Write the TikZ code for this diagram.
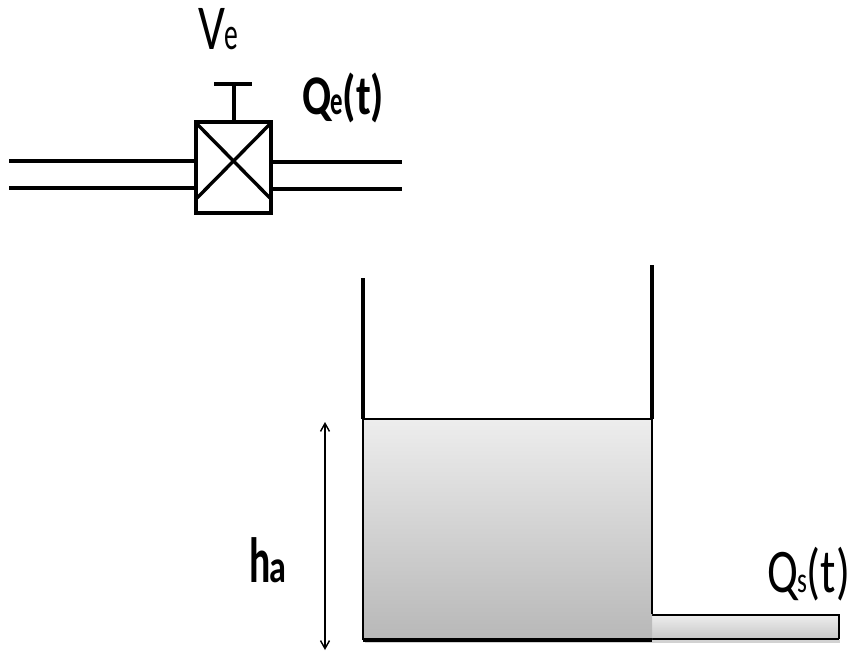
\documentclass[tikz,border=0pt]{standalone}
\usepackage{fontspec}
\setmainfont{Carlito}
\usetikzlibrary{arrows.meta,shadings}
\definecolor{wtop}{gray}{0.93}
\definecolor{wbot}{gray}{0.72}
\definecolor{ptop}{gray}{0.93}
\definecolor{pbot}{gray}{0.78}
\tikzset{
  thick line/.style={line width=4.4pt,black},
  wall line/.style={line width=3.4pt,black},
  label text/.style={inner sep=0pt,anchor=base west,black},
}
\newcommand{\bigtxt}[3]{\scalebox{#1}[1]{\fontsize{#2}{#2}\selectfont #3}}
\begin{document}
\begin{tikzpicture}[x=1pt,y=-1pt]
\useasboundingbox (0,0) rectangle (849,651);
\fill[white] (0,0) rectangle (849,651);
% coordinates
\coordinate (inA1) at (9,161);
\coordinate (inA2) at (196,161);
\coordinate (inB1) at (9,188);
\coordinate (inB2) at (196,188);
\coordinate (outA1) at (271,162);
\coordinate (outA2) at (402,162);
\coordinate (outB1) at (271,189);
\coordinate (outB2) at (402,189);
\coordinate (stemT) at (234,84);
\coordinate (barL) at (214,84);
\coordinate (barR) at (252,84);
\coordinate (boxTL) at (196,122);
\coordinate (boxBR) at (271,213);
\coordinate (stemB) at (234,122);
\coordinate (xa) at (197,124);
\coordinate (xb) at (270,198);
\coordinate (xc) at (270,124);
\coordinate (xd) at (197,198);
\coordinate (wlTop) at (363,278);
\coordinate (wlBot) at (363,419);
\coordinate (wrTop) at (652,265);
\coordinate (wrBot) at (652,419);
\coordinate (wTL) at (363,419);
\coordinate (wBR) at (652,640);
\coordinate (pTL) at (652,615);
\coordinate (pBR) at (839,639);
\coordinate (arT) at (325,422);
\coordinate (arB) at (325,650);
% pipes
\draw[thick line] (inA1) -- (inA2);
\draw[thick line] (inB1) -- (inB2);
\draw[line width=4.6pt] (outA1) -- (outA2);
\draw[line width=3.6pt] (outB1) -- (outB2);
% valve
\draw[line width=4.4pt,fill=white] (boxTL) rectangle (boxBR);
\draw[line width=3.4pt] (xa) -- (xb);
\draw[line width=3.4pt] (xc) -- (xd);
\draw[line width=3.6pt] (stemB) -- (stemT);
\draw[line width=4.4pt] (barL) -- (barR);
% soft shadow
\fill[gray!35] (365,640) rectangle (840,642.5);
% outlet pipe
\shade[top color=ptop,bottom color=pbot] (pTL) rectangle (pBR);
\draw[line width=1.2pt] (652,615) -- (839,615) -- (839,639);
\draw[line width=1.6pt] (652,639) -- (839,639);
% water
\shade[top color=wtop,bottom color=wbot] (wTL) rectangle (wBR);
\draw[line width=1.6pt] (wBR |- wTL) -- (652,614);
\draw[line width=1.8pt] (wTL) -- (363,640);
\draw[line width=2.8pt] (wTL) -- (652,419);
\draw[line width=3.2pt] (363,640) -- (652,640);
% walls
\draw[wall line] (wlTop) -- (wlBot);
\draw[wall line] (wrTop) -- (wrBot);
% level arrow
\draw[line width=1.4pt,{Straight Barb[length=8pt,width=9pt]}-{Straight Barb[length=8pt,width=9pt]}] (arT) -- (arB);
% labels
\node[label text] (ve) at (198,49) {\bigtxt{0.74}{64}{V}\hspace{-1pt}\bigtxt{0.6}{46}{e}};
\node[label text] (qe) at (302,114) {\bfseries\bigtxt{0.76}{56}{Q}\hspace{-1pt}\bigtxt{0.62}{40}{e}\bigtxt{0.76}{56}{(t)}};
\node[label text] (ha) at (249,582) {\bfseries\bigtxt{0.62}{64}{h}\hspace{-1pt}\bigtxt{0.74}{46}{a}};
\node[label text] (qs) at (767,592) {\bigtxt{0.74}{62}{Q}\hspace{-1pt}\bigtxt{0.7}{36}{s}\bigtxt{0.74}{62}{(t)}};
\end{tikzpicture}
\end{document}
